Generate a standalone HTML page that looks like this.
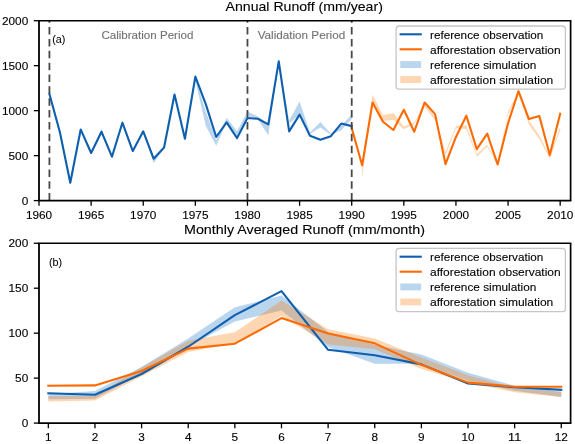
<!DOCTYPE html>
<html><head><meta charset="utf-8"><style>
html,body{margin:0;padding:0;background:#fff;}
body{width:575px;height:444px;overflow:hidden;position:relative;font-family:"Liberation Sans", sans-serif;}
svg text{font-family:"Liberation Sans", sans-serif;}
</style></head><body>
<svg width="575" height="444" viewBox="0 0 575 444" style="position:absolute;left:0;top:0;filter:blur(0.3px)">
<rect width="575" height="444" fill="#fff"/>
<polygon points="49.42,93.38 59.85,131.16 70.27,180.81 80.69,128.64 91.12,151.58 101.54,128.64 111.96,155.80 122.39,122.16 132.81,150.05 143.24,130.89 153.66,158.86 164.08,147.08 174.51,94.28 184.93,138.08 195.35,77.19 205.78,111.55 216.20,140.24 226.62,117.67 237.05,131.25 247.47,111.55 257.89,116.41 268.32,125.40 278.74,61.18 289.16,120.54 299.59,101.48 310.01,132.42 320.44,121.98 330.86,133.77 341.28,125.85 351.71,114.52 351.71,119.11 341.28,130.35 330.86,134.85 320.44,127.56 310.01,133.77 299.59,114.70 289.16,123.24 278.74,62.53 268.32,135.48 257.89,119.20 247.47,116.05 237.05,135.75 226.62,122.25 216.20,145.64 205.78,125.94 195.35,80.52 184.93,139.43 174.51,95.81 164.08,148.25 153.66,163.36 143.24,132.24 132.81,151.31 122.39,123.69 111.96,157.24 101.54,131.79 91.12,153.11 80.69,130.44 70.27,182.16 59.85,132.96 49.42,95.18" fill="#1a73c8" fill-opacity="0.3"/>
<polygon points="362.13,164.98 372.55,94.82 382.98,115.33 393.40,113.08 403.82,126.57 414.25,122.52 424.67,103.00 435.09,116.95 445.52,152.03 455.94,126.12 466.36,125.40 476.79,154.28 487.21,144.83 497.64,163.72 508.06,111.55 518.48,91.58 528.91,120.54 539.33,135.48 549.75,156.16 560.18,126.39 560.18,129.99 549.75,158.86 539.33,138.98 528.91,124.59 518.48,93.11 508.06,114.25 497.64,165.07 487.21,146.81 476.79,156.70 466.36,129.09 455.94,128.37 445.52,155.62 435.09,120.27 424.67,106.60 414.25,123.96 403.82,129.36 393.40,119.73 382.98,120.99 372.55,102.55 362.13,177.30" fill="#fc7800" fill-opacity="0.3"/>
<polyline points="49.42,94.01 59.85,131.97 70.27,182.79 80.69,129.45 91.12,153.02 101.54,131.79 111.96,156.70 122.39,122.70 132.81,151.04 143.24,131.34 153.66,158.68 164.08,147.53 174.51,94.46 184.93,138.71 195.35,76.56 205.78,104.17 216.20,137.01 226.62,122.43 237.05,138.08 247.47,118.03 257.89,118.75 268.32,124.32 278.74,61.36 289.16,131.34 299.59,114.61 310.01,135.66 320.44,139.70 330.86,136.20 341.28,123.60 351.71,126.12" fill="none" stroke="#0e5fae" stroke-width="2.1" stroke-linejoin="round" stroke-linecap="square"/>
<polyline points="351.71,127.92 362.13,165.34 372.55,102.55 382.98,121.71 393.40,129.99 403.82,109.75 414.25,131.70 424.67,102.46 435.09,114.16 445.52,164.08 455.94,136.92 466.36,115.69 476.79,149.15 487.21,133.68 497.64,164.53 508.06,123.24 518.48,91.13 528.91,119.11 539.33,115.96 549.75,154.91 560.18,113.71" fill="none" stroke="#fd6a02" stroke-width="2.1" stroke-linejoin="round" stroke-linecap="square"/>
<line x1="49.42" y1="200.6" x2="49.42" y2="20.7" stroke="#474747" stroke-width="1.8" stroke-dasharray="7.5 4.36"/>
<line x1="247.47" y1="200.6" x2="247.47" y2="20.7" stroke="#474747" stroke-width="1.8" stroke-dasharray="7.5 4.36"/>
<line x1="351.71" y1="200.6" x2="351.71" y2="20.7" stroke="#474747" stroke-width="1.8" stroke-dasharray="7.5 4.36"/>
<polygon points="48.33,394.14 94.96,391.00 141.59,366.90 188.22,338.57 234.85,307.37 281.48,295.59 328.12,332.01 374.75,344.87 421.38,354.58 468.01,372.65 514.64,385.78 561.27,391.72 561.27,396.93 514.64,390.73 468.01,380.84 421.38,363.75 374.75,363.75 328.12,347.11 281.48,310.42 234.85,321.48 188.22,346.66 141.59,373.64 94.96,398.82 48.33,399.27" fill="#1a73c8" fill-opacity="0.3"/>
<polygon points="48.33,396.21 94.96,396.12 141.59,367.35 188.22,340.64 234.85,332.28 281.48,300.62 328.12,329.22 374.75,338.57 421.38,357.45 468.01,375.26 514.64,388.03 561.27,391.72 561.27,396.93 514.64,392.17 468.01,382.63 421.38,368.97 374.75,349.36 328.12,344.42 281.48,315.64 234.85,343.07 188.22,352.06 141.59,376.34 94.96,400.44 48.33,401.43" fill="#fc7800" fill-opacity="0.3"/>
<polyline points="48.33,393.33 94.96,394.77 141.59,374.00 188.22,346.75 234.85,315.19 281.48,291.09 328.12,349.81 374.75,355.21 421.38,364.38 468.01,383.53 514.64,387.31 561.27,389.83" fill="none" stroke="#0e5fae" stroke-width="2.1" stroke-linejoin="round" stroke-linecap="square"/>
<polyline points="48.33,385.69 94.96,385.42 141.59,370.94 188.22,348.64 234.85,343.70 281.48,318.07 328.12,333.44 374.75,343.34 421.38,364.83 468.01,382.63 514.64,386.68 561.27,386.68" fill="none" stroke="#fd6a02" stroke-width="2.1" stroke-linejoin="round" stroke-linecap="square"/>
<line x1="38.2" y1="20.7" x2="571.4" y2="20.7" stroke="#000" stroke-width="1.55"/>
<line x1="38.2" y1="200.6" x2="571.4" y2="200.6" stroke="#000" stroke-width="1.55"/>
<line x1="39.0" y1="20.7" x2="39.0" y2="200.6" stroke="#000" stroke-width="1.8"/>
<line x1="570.6" y1="20.7" x2="570.6" y2="200.6" stroke="#000" stroke-width="1.7"/>
<line x1="38.2" y1="243.25" x2="571.4" y2="243.25" stroke="#000" stroke-width="1.55"/>
<line x1="38.2" y1="423.1" x2="571.4" y2="423.1" stroke="#000" stroke-width="1.55"/>
<line x1="39.0" y1="243.25" x2="39.0" y2="423.1" stroke="#000" stroke-width="1.8"/>
<line x1="570.6" y1="243.25" x2="570.6" y2="423.1" stroke="#000" stroke-width="1.7"/>
<line x1="39.00" y1="200.6" x2="39.00" y2="205.79999999999998" stroke="#000" stroke-width="1.3"/>
<text x="39.00" y="219.00" text-anchor="middle" font-size="11.1" fill="#000" stroke="#000" stroke-width="0.12" textLength="26.2" lengthAdjust="spacingAndGlyphs">1960</text>
<line x1="91.12" y1="200.6" x2="91.12" y2="205.79999999999998" stroke="#000" stroke-width="1.3"/>
<text x="91.12" y="219.00" text-anchor="middle" font-size="11.1" fill="#000" stroke="#000" stroke-width="0.12" textLength="26.2" lengthAdjust="spacingAndGlyphs">1965</text>
<line x1="143.24" y1="200.6" x2="143.24" y2="205.79999999999998" stroke="#000" stroke-width="1.3"/>
<text x="143.24" y="219.00" text-anchor="middle" font-size="11.1" fill="#000" stroke="#000" stroke-width="0.12" textLength="26.2" lengthAdjust="spacingAndGlyphs">1970</text>
<line x1="195.35" y1="200.6" x2="195.35" y2="205.79999999999998" stroke="#000" stroke-width="1.3"/>
<text x="195.35" y="219.00" text-anchor="middle" font-size="11.1" fill="#000" stroke="#000" stroke-width="0.12" textLength="26.2" lengthAdjust="spacingAndGlyphs">1975</text>
<line x1="247.47" y1="200.6" x2="247.47" y2="205.79999999999998" stroke="#000" stroke-width="1.3"/>
<text x="247.47" y="219.00" text-anchor="middle" font-size="11.1" fill="#000" stroke="#000" stroke-width="0.12" textLength="26.2" lengthAdjust="spacingAndGlyphs">1980</text>
<line x1="299.59" y1="200.6" x2="299.59" y2="205.79999999999998" stroke="#000" stroke-width="1.3"/>
<text x="299.59" y="219.00" text-anchor="middle" font-size="11.1" fill="#000" stroke="#000" stroke-width="0.12" textLength="26.2" lengthAdjust="spacingAndGlyphs">1985</text>
<line x1="351.71" y1="200.6" x2="351.71" y2="205.79999999999998" stroke="#000" stroke-width="1.3"/>
<text x="351.71" y="219.00" text-anchor="middle" font-size="11.1" fill="#000" stroke="#000" stroke-width="0.12" textLength="26.2" lengthAdjust="spacingAndGlyphs">1990</text>
<line x1="403.82" y1="200.6" x2="403.82" y2="205.79999999999998" stroke="#000" stroke-width="1.3"/>
<text x="403.82" y="219.00" text-anchor="middle" font-size="11.1" fill="#000" stroke="#000" stroke-width="0.12" textLength="26.2" lengthAdjust="spacingAndGlyphs">1995</text>
<line x1="455.94" y1="200.6" x2="455.94" y2="205.79999999999998" stroke="#000" stroke-width="1.3"/>
<text x="455.94" y="219.00" text-anchor="middle" font-size="11.1" fill="#000" stroke="#000" stroke-width="0.12" textLength="26.2" lengthAdjust="spacingAndGlyphs">2000</text>
<line x1="508.06" y1="200.6" x2="508.06" y2="205.79999999999998" stroke="#000" stroke-width="1.3"/>
<text x="508.06" y="219.00" text-anchor="middle" font-size="11.1" fill="#000" stroke="#000" stroke-width="0.12" textLength="26.2" lengthAdjust="spacingAndGlyphs">2005</text>
<line x1="560.18" y1="200.6" x2="560.18" y2="205.79999999999998" stroke="#000" stroke-width="1.3"/>
<text x="560.18" y="219.00" text-anchor="middle" font-size="11.1" fill="#000" stroke="#000" stroke-width="0.12" textLength="26.2" lengthAdjust="spacingAndGlyphs">2010</text>
<line x1="33.8" y1="200.60" x2="39.0" y2="200.60" stroke="#000" stroke-width="1.3"/>
<text x="28.20" y="204.70" text-anchor="end" font-size="11.1" fill="#000" stroke="#000" stroke-width="0.12" textLength="6.55" lengthAdjust="spacingAndGlyphs">0</text>
<line x1="33.8" y1="155.62" x2="39.0" y2="155.62" stroke="#000" stroke-width="1.3"/>
<text x="28.20" y="159.72" text-anchor="end" font-size="11.1" fill="#000" stroke="#000" stroke-width="0.12" textLength="19.65" lengthAdjust="spacingAndGlyphs">500</text>
<line x1="33.8" y1="110.65" x2="39.0" y2="110.65" stroke="#000" stroke-width="1.3"/>
<text x="28.20" y="114.75" text-anchor="end" font-size="11.1" fill="#000" stroke="#000" stroke-width="0.12" textLength="26.2" lengthAdjust="spacingAndGlyphs">1000</text>
<line x1="33.8" y1="65.67" x2="39.0" y2="65.67" stroke="#000" stroke-width="1.3"/>
<text x="28.20" y="69.77" text-anchor="end" font-size="11.1" fill="#000" stroke="#000" stroke-width="0.12" textLength="26.2" lengthAdjust="spacingAndGlyphs">1500</text>
<line x1="33.8" y1="20.70" x2="39.0" y2="20.70" stroke="#000" stroke-width="1.3"/>
<text x="28.20" y="24.80" text-anchor="end" font-size="11.1" fill="#000" stroke="#000" stroke-width="0.12" textLength="26.2" lengthAdjust="spacingAndGlyphs">2000</text>
<line x1="48.33" y1="423.1" x2="48.33" y2="428.3" stroke="#000" stroke-width="1.3"/>
<text x="48.33" y="441.20" text-anchor="middle" font-size="11.1" fill="#000" stroke="#000" stroke-width="0.12" textLength="6.55" lengthAdjust="spacingAndGlyphs">1</text>
<line x1="94.96" y1="423.1" x2="94.96" y2="428.3" stroke="#000" stroke-width="1.3"/>
<text x="94.96" y="441.20" text-anchor="middle" font-size="11.1" fill="#000" stroke="#000" stroke-width="0.12" textLength="6.55" lengthAdjust="spacingAndGlyphs">2</text>
<line x1="141.59" y1="423.1" x2="141.59" y2="428.3" stroke="#000" stroke-width="1.3"/>
<text x="141.59" y="441.20" text-anchor="middle" font-size="11.1" fill="#000" stroke="#000" stroke-width="0.12" textLength="6.55" lengthAdjust="spacingAndGlyphs">3</text>
<line x1="188.22" y1="423.1" x2="188.22" y2="428.3" stroke="#000" stroke-width="1.3"/>
<text x="188.22" y="441.20" text-anchor="middle" font-size="11.1" fill="#000" stroke="#000" stroke-width="0.12" textLength="6.55" lengthAdjust="spacingAndGlyphs">4</text>
<line x1="234.85" y1="423.1" x2="234.85" y2="428.3" stroke="#000" stroke-width="1.3"/>
<text x="234.85" y="441.20" text-anchor="middle" font-size="11.1" fill="#000" stroke="#000" stroke-width="0.12" textLength="6.55" lengthAdjust="spacingAndGlyphs">5</text>
<line x1="281.48" y1="423.1" x2="281.48" y2="428.3" stroke="#000" stroke-width="1.3"/>
<text x="281.48" y="441.20" text-anchor="middle" font-size="11.1" fill="#000" stroke="#000" stroke-width="0.12" textLength="6.55" lengthAdjust="spacingAndGlyphs">6</text>
<line x1="328.12" y1="423.1" x2="328.12" y2="428.3" stroke="#000" stroke-width="1.3"/>
<text x="328.12" y="441.20" text-anchor="middle" font-size="11.1" fill="#000" stroke="#000" stroke-width="0.12" textLength="6.55" lengthAdjust="spacingAndGlyphs">7</text>
<line x1="374.75" y1="423.1" x2="374.75" y2="428.3" stroke="#000" stroke-width="1.3"/>
<text x="374.75" y="441.20" text-anchor="middle" font-size="11.1" fill="#000" stroke="#000" stroke-width="0.12" textLength="6.55" lengthAdjust="spacingAndGlyphs">8</text>
<line x1="421.38" y1="423.1" x2="421.38" y2="428.3" stroke="#000" stroke-width="1.3"/>
<text x="421.38" y="441.20" text-anchor="middle" font-size="11.1" fill="#000" stroke="#000" stroke-width="0.12" textLength="6.55" lengthAdjust="spacingAndGlyphs">9</text>
<line x1="468.01" y1="423.1" x2="468.01" y2="428.3" stroke="#000" stroke-width="1.3"/>
<text x="468.01" y="441.20" text-anchor="middle" font-size="11.1" fill="#000" stroke="#000" stroke-width="0.12" textLength="13.1" lengthAdjust="spacingAndGlyphs">10</text>
<line x1="514.64" y1="423.1" x2="514.64" y2="428.3" stroke="#000" stroke-width="1.3"/>
<text x="514.64" y="441.20" text-anchor="middle" font-size="11.1" fill="#000" stroke="#000" stroke-width="0.12" textLength="13.1" lengthAdjust="spacingAndGlyphs">11</text>
<line x1="561.27" y1="423.1" x2="561.27" y2="428.3" stroke="#000" stroke-width="1.3"/>
<text x="561.27" y="441.20" text-anchor="middle" font-size="11.1" fill="#000" stroke="#000" stroke-width="0.12" textLength="13.1" lengthAdjust="spacingAndGlyphs">12</text>
<line x1="33.8" y1="423.10" x2="39.0" y2="423.10" stroke="#000" stroke-width="1.3"/>
<text x="28.20" y="427.20" text-anchor="end" font-size="11.1" fill="#000" stroke="#000" stroke-width="0.12" textLength="6.55" lengthAdjust="spacingAndGlyphs">0</text>
<line x1="33.8" y1="378.14" x2="39.0" y2="378.14" stroke="#000" stroke-width="1.3"/>
<text x="28.20" y="382.24" text-anchor="end" font-size="11.1" fill="#000" stroke="#000" stroke-width="0.12" textLength="13.1" lengthAdjust="spacingAndGlyphs">50</text>
<line x1="33.8" y1="333.18" x2="39.0" y2="333.18" stroke="#000" stroke-width="1.3"/>
<text x="28.20" y="337.28" text-anchor="end" font-size="11.1" fill="#000" stroke="#000" stroke-width="0.12" textLength="19.65" lengthAdjust="spacingAndGlyphs">100</text>
<line x1="33.8" y1="288.21" x2="39.0" y2="288.21" stroke="#000" stroke-width="1.3"/>
<text x="28.20" y="292.31" text-anchor="end" font-size="11.1" fill="#000" stroke="#000" stroke-width="0.12" textLength="19.65" lengthAdjust="spacingAndGlyphs">150</text>
<line x1="33.8" y1="243.25" x2="39.0" y2="243.25" stroke="#000" stroke-width="1.3"/>
<text x="28.20" y="247.35" text-anchor="end" font-size="11.1" fill="#000" stroke="#000" stroke-width="0.12" textLength="19.65" lengthAdjust="spacingAndGlyphs">200</text>
<text x="304.20" y="11.20" text-anchor="middle" font-size="13.1" fill="#000" stroke="#000" stroke-width="0.1" textLength="157.3" lengthAdjust="spacingAndGlyphs">Annual Runoff (mm/year)</text>
<text x="304.50" y="233.90" text-anchor="middle" font-size="13.1" fill="#000" stroke="#000" stroke-width="0.1" textLength="241.0" lengthAdjust="spacingAndGlyphs">Monthly Averaged Runoff (mm/month)</text>
<text x="147.40" y="38.80" text-anchor="middle" font-size="11.0" fill="#737373" stroke="#737373" stroke-width="0.12" textLength="92" lengthAdjust="spacingAndGlyphs">Calibration Period</text>
<text x="301.40" y="38.80" text-anchor="middle" font-size="11.0" fill="#737373" stroke="#737373" stroke-width="0.12" textLength="87.5" lengthAdjust="spacingAndGlyphs">Validation Period</text>
<text x="52.20" y="42.90" text-anchor="start" font-size="10.0" fill="#000" stroke="#000" stroke-width="0.05" textLength="13.2" lengthAdjust="spacingAndGlyphs">(a)</text>
<text x="48.90" y="265.50" text-anchor="start" font-size="10.0" fill="#000" stroke="#000" stroke-width="0.05" textLength="13.2" lengthAdjust="spacingAndGlyphs">(b)</text>
<rect x="396.1" y="26.0" width="169.3" height="63.2" rx="3.2" ry="3.2" fill="#fff" fill-opacity="0.8" stroke="#c6c6c6" stroke-width="1.3"/>
<line x1="399.6" y1="34.30" x2="421.8" y2="34.30" stroke="#0e5fae" stroke-width="2.1"/>
<line x1="399.6" y1="49.30" x2="421.8" y2="49.30" stroke="#fd6a02" stroke-width="2.1"/>
<rect x="400.3" y="61.10" width="20.8" height="6.9" fill="#1a73c8" fill-opacity="0.3"/>
<rect x="400.3" y="76.10" width="20.8" height="6.9" fill="#fc7800" fill-opacity="0.3"/>
<text x="430.00" y="38.50" text-anchor="start" font-size="11.0" fill="#000" stroke="#000" stroke-width="0.1" textLength="113.4" lengthAdjust="spacingAndGlyphs">reference observation</text>
<text x="430.00" y="53.50" text-anchor="start" font-size="11.0" fill="#000" stroke="#000" stroke-width="0.1" textLength="130.6" lengthAdjust="spacingAndGlyphs">afforestation observation</text>
<text x="430.00" y="68.50" text-anchor="start" font-size="11.0" fill="#000" stroke="#000" stroke-width="0.1" textLength="106.3" lengthAdjust="spacingAndGlyphs">reference simulation</text>
<text x="430.00" y="83.50" text-anchor="start" font-size="11.0" fill="#000" stroke="#000" stroke-width="0.1" textLength="123.3" lengthAdjust="spacingAndGlyphs">afforestation simulation</text>
<rect x="396.1" y="248.4" width="169.3" height="63.2" rx="3.2" ry="3.2" fill="#fff" fill-opacity="0.8" stroke="#c6c6c6" stroke-width="1.3"/>
<line x1="399.6" y1="256.70" x2="421.8" y2="256.70" stroke="#0e5fae" stroke-width="2.1"/>
<line x1="399.6" y1="271.70" x2="421.8" y2="271.70" stroke="#fd6a02" stroke-width="2.1"/>
<rect x="400.3" y="283.50" width="20.8" height="6.9" fill="#1a73c8" fill-opacity="0.3"/>
<rect x="400.3" y="298.50" width="20.8" height="6.9" fill="#fc7800" fill-opacity="0.3"/>
<text x="430.00" y="260.90" text-anchor="start" font-size="11.0" fill="#000" stroke="#000" stroke-width="0.1" textLength="113.4" lengthAdjust="spacingAndGlyphs">reference observation</text>
<text x="430.00" y="275.90" text-anchor="start" font-size="11.0" fill="#000" stroke="#000" stroke-width="0.1" textLength="130.6" lengthAdjust="spacingAndGlyphs">afforestation observation</text>
<text x="430.00" y="290.90" text-anchor="start" font-size="11.0" fill="#000" stroke="#000" stroke-width="0.1" textLength="106.3" lengthAdjust="spacingAndGlyphs">reference simulation</text>
<text x="430.00" y="305.90" text-anchor="start" font-size="11.0" fill="#000" stroke="#000" stroke-width="0.1" textLength="123.3" lengthAdjust="spacingAndGlyphs">afforestation simulation</text>
</svg>
</body></html>
